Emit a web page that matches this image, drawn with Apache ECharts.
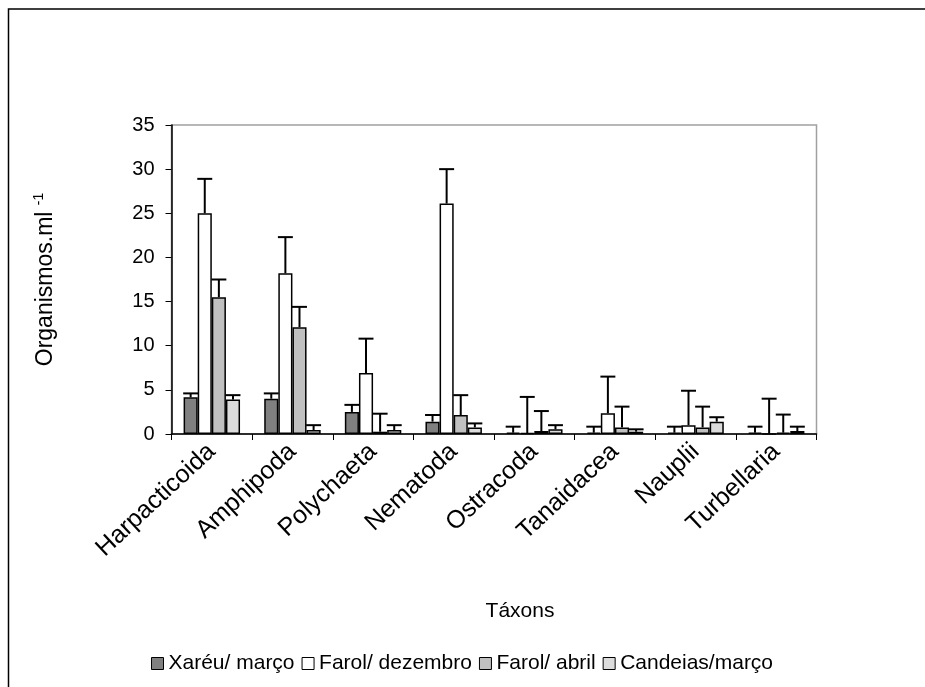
<!DOCTYPE html>
<html>
<head>
<meta charset="utf-8">
<script src="https://cdn.jsdelivr.net/npm/echarts@6/dist/echarts.min.js"></script>
<style>
  html, body { margin: 0; padding: 0; background: #fff; }
  #chart { width: 925px; height: 687px; }
</style>
</head>
<body>
<div id="chart"></div>
<script>
// Taxa on the x axis
const categories = ['Harpacticoida', 'Amphipoda', 'Polychaeta', 'Nematoda',
  'Ostracoda', 'Tanaidacea', 'Nauplii', 'Turbellaria'];

// Sampling sites / months
const seriesNames = ['Xaréu/ março', 'Farol/ dezembro', 'Farol/ abril', 'Candeias/março'];

// Mean densities (organisms per ml)
const xareuMarco = [4.15, 4.0, 2.5, 1.4, 0.15, 0.15, 0.15, 0.15];
const farolDezembro = [25.0, 18.2, 6.9, 26.1, 0.1, 2.35, 1.0, 0];
const farolAbril = [15.5, 12.1, 0.26, 2.15, 0.34, 0.75, 0.75, 0.15];
const candeiasMarco = [3.9, 0.45, 0.45, 0.75, 0.53, 0.26, 1.4, 0.34];

// Upper end of each error bar (mean + deviation)
const xareuMarcoTop = [4.6, 4.6, 3.3, 2.15, 0.83, 0.83, 0.83, 0.83];
const farolDezembroTop = [28.9, 22.3, 10.8, 30.0, 4.2, 6.5, 4.9, 4.0];
const farolAbrilTop = [17.5, 14.4, 2.3, 4.4, 2.6, 3.1, 3.1, 2.2];
const candeiasMarcoTop = [4.4, 1.0, 1.0, 1.2, 1.0, 0.53, 1.9, 0.83];

// Y axis ticks
const yMin = 0, yMax = 35, yStep = 5;

const means = [xareuMarco, farolDezembro, farolAbril, candeiasMarco];
const tops = [xareuMarcoTop, farolDezembroTop, farolAbrilTop, candeiasMarcoTop];
const fills = ['#808080', '#ffffff', '#c0c0c0', '#dcdcdc'];

const GROUP_FRACTION = 0.7; // share of a category band covered by the bar group
const nBars = means.length;

const barSeries = means.map((vals, k) => ({
  name: seriesNames[k],
  type: 'bar',
  data: vals,
  barGap: '0%',
  barCategoryGap: '30%',
  itemStyle: { color: fills[k], borderColor: '#000', borderWidth: 1.5 },
  emphasis: { disabled: true },
  z: 2
}));

// Upper error bars, placed over the matching bar in each group
const errorSeries = means.map((vals, k) => ({
  name: seriesNames[k] + ' erro',
  type: 'custom',
  data: vals.map((v, i) => [i, v, tops[k][i]]),
  z: 3,
  silent: true,
  renderItem: function (params, api) {
    const cat = api.value(0);
    const base = api.coord([cat, api.value(1)]);
    const top = api.coord([cat, api.value(2)]);
    const band = api.size([1, 0])[0];
    const bw = band * GROUP_FRACTION / nBars;
    const x = base[0] - band * GROUP_FRACTION / 2 + bw * (k + 0.5);
    const half = bw * 0.53;
    const style = { stroke: '#000', lineWidth: 2 };
    return {
      type: 'group',
      children: [
        { type: 'line', shape: { x1: x, y1: base[1], x2: x, y2: top[1] }, style },
        { type: 'line', shape: { x1: x - half, y1: top[1], x2: x + half, y2: top[1] }, style }
      ]
    };
  }
}));

const chart = echarts.init(document.getElementById('chart'), null, { renderer: 'canvas' });

chart.setOption({
  backgroundColor: '#fff',
  animation: false,
  textStyle: { fontFamily: 'Liberation Sans, Arial, sans-serif', color: '#000' },
  graphic: [{
    type: 'rect',
    shape: { x: 8.5, y: 9, width: 1000, height: 1000 },
    style: { fill: 'none', stroke: '#000', lineWidth: 1.5 },
    silent: true
  }],
  grid: {
    left: 171.5, right: 108.5, top: 125, bottom: 253,
    show: true, borderColor: '#a0a0a0', borderWidth: 1.5, backgroundColor: 'transparent'
  },
  legend: {
    data: seriesNames,
    bottom: 8,
    left: 146,
    icon: 'rect',
    itemWidth: 12,
    itemHeight: 12,
    itemGap: 7,
    selectedMode: false,
    textStyle: { fontSize: 21, color: '#000' },
    itemStyle: { borderColor: '#000', borderWidth: 1 }
  },
  xAxis: {
    type: 'category',
    data: categories,
    boundaryGap: true,
    name: 'Táxons',
    nameLocation: 'middle',
    nameGap: 167,
    nameTextStyle: { fontSize: 21, color: '#000', padding: [0, 0, 0, 52] },
    axisLine: { lineStyle: { color: '#000', width: 1.5 } },
    axisTick: { show: true, inside: false, length: 6, interval: 0, lineStyle: { color: '#000', width: 1 } },
    axisLabel: { interval: 0, rotate: 43, fontSize: 25, color: '#000', margin: 14 },
    splitLine: { show: false }
  },
  yAxis: {
    type: 'value',
    min: yMin,
    max: yMax,
    interval: yStep,
    name: '{a|Organismos.ml}{s| }{b|-1}',
    nameLocation: 'middle',
    nameRotate: 90,
    nameGap: 113,
    nameTextStyle: {
      rich: {
        a: { fontSize: 23, color: '#000', lineHeight: 26 },
        s: { fontSize: 23, lineHeight: 26 },
        b: { fontSize: 14, color: '#000', lineHeight: 12, verticalAlign: 'top' }
      }
    },
    axisLine: { show: true, lineStyle: { color: '#000', width: 1.5 } },
    axisTick: { show: true, inside: false, length: 6, lineStyle: { color: '#000', width: 1 } },
    axisLabel: { fontSize: 20, color: '#000', margin: 17 },
    splitLine: { show: false }
  },
  series: barSeries.concat(errorSeries)
});
</script>
</body>
</html>
